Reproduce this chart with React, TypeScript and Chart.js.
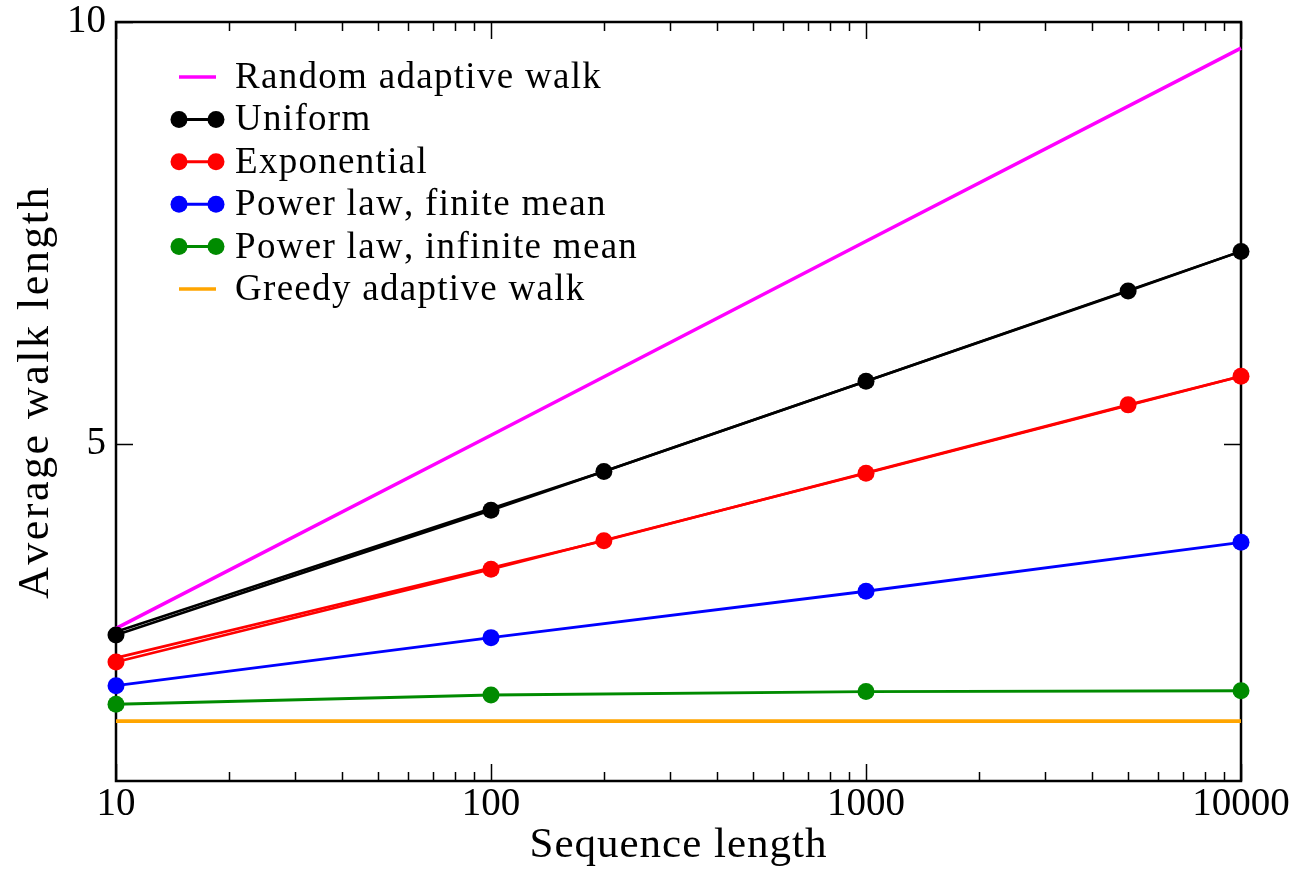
import React, { useEffect, useRef } from "react";
import { Chart, registerables } from "chart.js";

Chart.register(...registerables);

// ---- Data ----
const sequenceLengths = [10, 100, 1000, 10000];
const sequenceLengthsAlt = [10, 200, 5000, 10000];
const xTickValues = [10, 100, 1000, 10000];
const xMinorMultipliers = [2, 3, 4, 5, 6, 7, 8, 9];
const yTickValues = [5, 10];

const randomWalk = [2.81, 5.1, 7.4, 9.69];
const uniform = [2.73, 4.21, 5.74, 7.28];
const uniformAlt = [2.77, 4.67, 6.81, 7.28];
const exponential = [2.41, 3.51, 4.65, 5.8];
const exponentialAlt = [2.46, 3.85, 5.46, 5.8];
const powerFinite = [2.13, 2.7, 3.25, 3.83];
const powerInfinite = [1.91, 2.02, 2.06, 2.07];
const greedy = [1.71, 1.71, 1.71, 1.71];

const legendLabels = [
  "Random adaptive walk",
  "Uniform",
  "Exponential",
  "Power law, finite mean",
  "Power law, infinite mean",
  "Greedy adaptive walk",
];
const legendColors = ["#ff00ff", "#000000", "#ff0000", "#0000ff", "#008b00", "#ffa500"];
const legendHasMarker = [false, true, true, true, true, false];

const xTitle = "Sequence length";
const yTitle = "Average walk length";

const FONT = "'Liberation Serif', 'Times New Roman', serif";
const MARKER_R = 8.5;

function pts(xs: number[], ys: number[]) {
  return xs.map((x, i) => ({ x, y: ys[i] }));
}

const decorPlugin = {
  id: "decor",
  beforeDatasetsDraw(chart: any) {
    const { ctx, chartArea } = chart;
    const { left, right, top, bottom } = chartArea;
    const xs = chart.scales.x;
    const ys = chart.scales.y;
    ctx.save();
    ctx.strokeStyle = "#000";
    ctx.lineWidth = 1.5;
    ctx.beginPath();
    for (let d = 0; d < xTickValues.length - 1; d++) {
      for (const m of xMinorMultipliers) {
        const px = Math.round(xs.getPixelForValue(xTickValues[d] * m)) + 0.5;
        ctx.moveTo(px, bottom);
        ctx.lineTo(px, bottom - 9);
        ctx.moveTo(px, top);
        ctx.lineTo(px, top + 9);
      }
    }
    for (const v of xTickValues) {
      const px = Math.round(xs.getPixelForValue(v)) + 0.5;
      ctx.moveTo(px, bottom);
      ctx.lineTo(px, bottom - 17);
      ctx.moveTo(px, top);
      ctx.lineTo(px, top + 17);
    }
    for (const v of yTickValues) {
      const py = Math.round(ys.getPixelForValue(v)) + 0.5;
      ctx.moveTo(left, py);
      ctx.lineTo(left + 17, py);
      ctx.moveTo(right, py);
      ctx.lineTo(right - 17, py);
    }
    ctx.stroke();
    ctx.lineWidth = 2.5;
    ctx.strokeRect(left, top, right - left, bottom - top);
    ctx.restore();
  },
  afterDraw(chart: any) {
    const { ctx, chartArea } = chart;
    const { left, right, top, bottom } = chartArea;
    ctx.save();
    (ctx as any).fontKerning = "none";
    // Legend
    const lx1 = left + 63;
    const lx2 = left + 100;
    const tx = left + 119;
    const y0 = top + 55;
    const step = 42.4;
    ctx.font = `37px ${FONT}`;
    (ctx as any).letterSpacing = "1.3px";
    ctx.textAlign = "left";
    ctx.textBaseline = "alphabetic";
    legendLabels.forEach((lab, i) => {
      const yy = y0 + i * step;
      const col = legendColors[i];
      ctx.strokeStyle = col;
      ctx.fillStyle = col;
      ctx.lineWidth = legendHasMarker[i] ? 3 : 3.5;
      ctx.beginPath();
      ctx.moveTo(lx1, yy);
      ctx.lineTo(lx2, yy);
      ctx.stroke();
      if (legendHasMarker[i]) {
        for (const cx of [lx1, lx2]) {
          ctx.beginPath();
          ctx.arc(cx, yy, MARKER_R, 0, Math.PI * 2);
          ctx.fill();
        }
      }
      ctx.fillStyle = "#000";
      ctx.fillText(lab, tx, yy + 11);
    });
    // Axis titles
    ctx.fillStyle = "#000";
    ctx.textAlign = "center";
    ctx.font = `43px ${FONT}`;
    (ctx as any).letterSpacing = "1px";
    ctx.fillText(xTitle, (left + right) / 2, 857);
    ctx.save();
    ctx.font = `44px ${FONT}`;
    (ctx as any).letterSpacing = "2.5px";
    ctx.translate(48, 392);
    ctx.rotate(-Math.PI / 2);
    ctx.fillText(yTitle, 0, 0);
    ctx.restore();
    ctx.restore();
  },
};

export default function App() {
  const ref = useRef<HTMLCanvasElement | null>(null);
  useEffect(() => {
    document.body.style.margin = "0";
    const canvas = ref.current;
    if (!canvas) return;
    const lineDs = (label: string, xs: number[], ys: number[], color: string, width: number, marker: boolean, skipEnds = false) => ({
      label,
      data: pts(xs, ys),
      borderColor: color,
      backgroundColor: color,
      borderWidth: width,
      pointRadius: marker
        ? (c: any) => (skipEnds && (c.dataIndex === 0 || c.dataIndex === xs.length - 1) ? 0 : MARKER_R)
        : 0,
      pointBorderWidth: 0,
      pointHoverRadius: marker ? MARKER_R : 0,
      pointBackgroundColor: color,
      tension: 0,
      clip: false as any,
    });
    const chart = new Chart(canvas, {
      type: "line",
      data: {
        datasets: [
          lineDs(legendLabels[1], sequenceLengths, uniform, legendColors[1], 2.6, true),
          lineDs(legendLabels[1], sequenceLengthsAlt, uniformAlt, legendColors[1], 2.6, true, true),
          lineDs(legendLabels[2], sequenceLengths, exponential, legendColors[2], 2.6, true),
          lineDs(legendLabels[2], sequenceLengthsAlt, exponentialAlt, legendColors[2], 2.6, true, true),
          lineDs(legendLabels[3], sequenceLengths, powerFinite, legendColors[3], 2.8, true),
          lineDs(legendLabels[4], sequenceLengths, powerInfinite, legendColors[4], 2.8, true),
          lineDs(legendLabels[0], sequenceLengths, randomWalk, legendColors[0], 3.5, false),
          lineDs(legendLabels[5], sequenceLengths, greedy, legendColors[5], 3.8, false),
        ] as any,
      },
      options: {
        animation: false,
        responsive: false,
        events: [],
        layout: { padding: { top: 22, right: 55, left: 0, bottom: 0 } },
        plugins: { legend: { display: false }, tooltip: { enabled: false } },
        scales: {
          x: {
            type: "logarithmic",
            min: 10,
            max: 10000,
            grid: { display: false, drawTicks: false },
            border: { display: false },
            afterBuildTicks: (s: any) => {
              s.ticks = xTickValues.map((v) => ({ value: v }));
            },
            afterFit: (s: any) => {
              s.height = 88;
              s.paddingLeft = 0;
              s.paddingRight = 0;
            },
            ticks: {
              autoSkip: false,
              maxRotation: 0,
              padding: 4,
              color: "#000",
              font: { family: FONT, size: 39, lineHeight: 1 },
              callback: (v: any) => String(v),
            },
          },
          y: {
            type: "linear",
            min: 1,
            max: 10,
            grid: { display: false, drawTicks: false },
            border: { display: false },
            afterBuildTicks: (s: any) => {
              s.ticks = yTickValues.map((v) => ({ value: v }));
            },
            afterFit: (s: any) => {
              s.width = 116;
              s.paddingTop = 0;
              s.paddingBottom = 0;
            },
            ticks: {
              padding: 10,
              color: "#000",
              font: { family: FONT, size: 39, lineHeight: 1 },
              callback: (v: any) => String(v),
            },
          },
        },
      } as any,
      plugins: [decorPlugin],
    });
    return () => chart.destroy();
  }, []);
  return <canvas ref={ref} width={1296} height={869} style={{ display: "block" }} />;
}
